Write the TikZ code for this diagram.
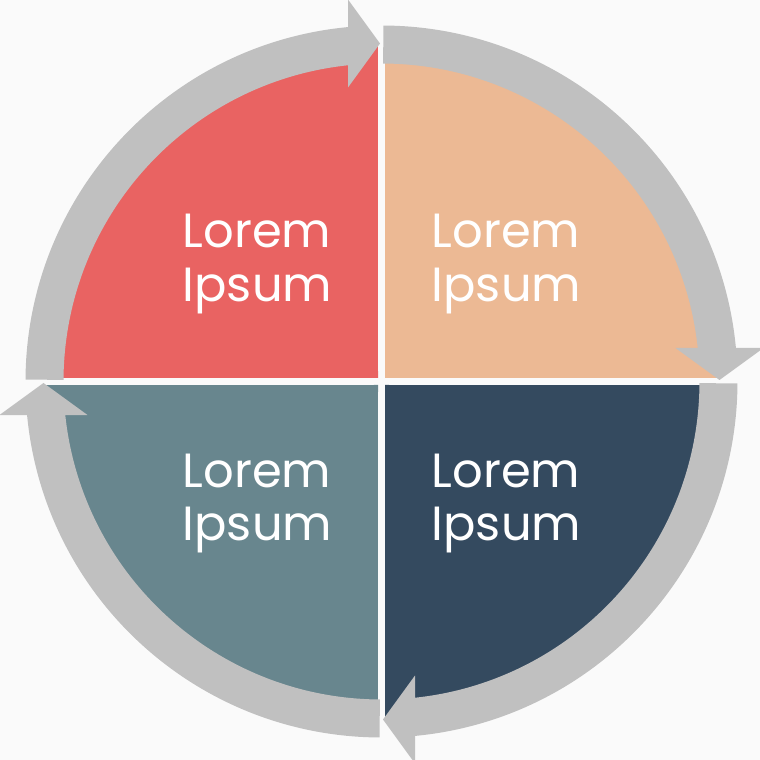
\documentclass[tikz,border=0pt]{standalone}
\usepackage{fontspec}
\setmainfont{Poppins}
\definecolor{qred}{HTML}{E96362}
\definecolor{qpeach}{HTML}{ECB994}
\definecolor{qslate}{HTML}{68868E}
\definecolor{qnavy}{HTML}{344A5F}
\definecolor{ringgray}{HTML}{C0C0C0}
\definecolor{bgcol}{HTML}{FAFAFA}
\begin{document}
\begin{tikzpicture}[x=1pt,y=1pt,
  lbl/.style={text=white, font=\fontsize{48}{48}\selectfont, inner sep=0pt, anchor=base west},
  ringseg/.style={fill=ringgray, draw=none}]
\fill[bgcol] (-381.5,-378.5) rectangle (378.5,381.5);
\useasboundingbox (-381.5,-378.5) rectangle (378.5,381.5);
% quadrants
\fill[qred] (-3.5,3.5) -- (90.6:337) arc[start angle=90.6,end angle=179.4,radius=337] -- cycle;
\fill[qpeach] (3.5,3.5) -- (0.6:337) arc[start angle=0.6,end angle=89.4,radius=337] -- cycle;
\fill[qnavy] (3.5,-3.5) -- (-89.4:337) arc[start angle=-89.4,end angle=-0.6,radius=337] -- cycle;
\fill[qslate] (-3.5,-3.5) -- (180.6:337) arc[start angle=180.6,end angle=269.4,radius=337] -- cycle;
% ring segments with arrowheads
\foreach \r in {0,-90,-180,-270}{
  \begin{scope}[rotate=\r]
    \fill[ringseg] (179.7:356) arc[start angle=179.7,end angle=95,radius=356]
      -- (95:318) arc[start angle=95,end angle=179.7,radius=318] -- cycle;
    \fill[ringseg] (-33.5,294) -- (-1.5,338) -- (-33.5,382) -- cycle;
  \end{scope}
}
% labels
\node[lbl] (t1a) at (-199,133.5) {Lorem};
\node[lbl] (t1b) at (-199,79.5) {Ipsum};
\node[lbl] (t2a) at (50,133.5) {Lorem};
\node[lbl] (t2b) at (50,79.5) {Ipsum};
\node[lbl] (t3a) at (-199,-105.5) {Lorem};
\node[lbl] (t3b) at (-199,-158.5) {Ipsum};
\node[lbl] (t4a) at (50,-105.5) {Lorem};
\node[lbl] (t4b) at (50,-158.5) {Ipsum};
\end{tikzpicture}
\end{document}
